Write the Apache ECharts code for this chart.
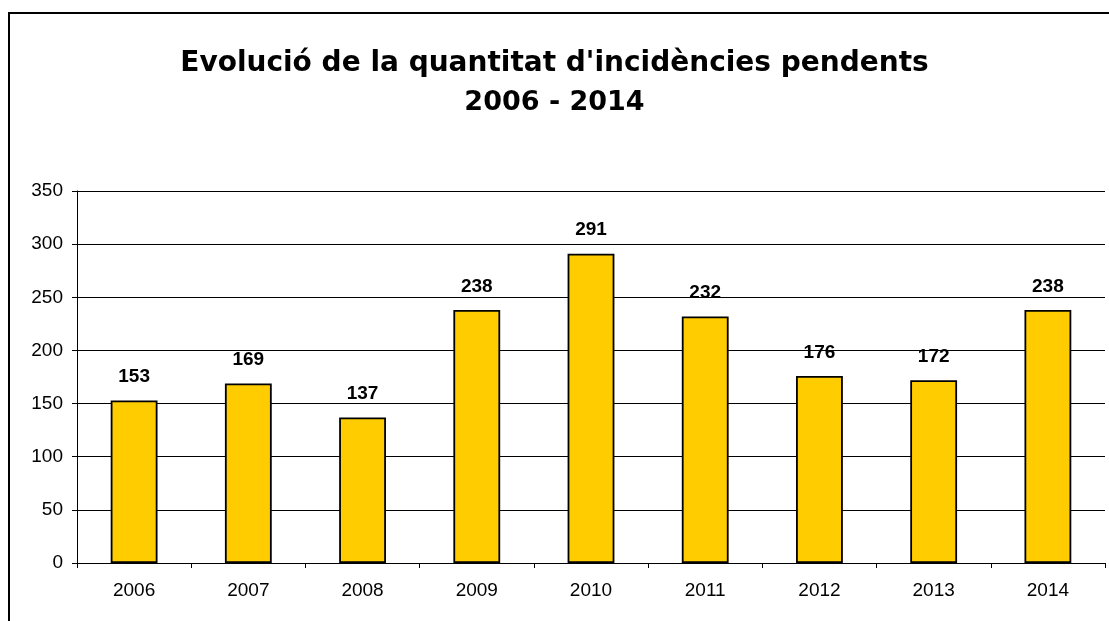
<!DOCTYPE html>
<html>
<head>
<meta charset="utf-8">
<script src="https://cdn.jsdelivr.net/npm/echarts@6/dist/echarts.min.js"></script>
<style>html,body{margin:0;padding:0;background:#fff}#c{width:1109px;height:621px}</style>
</head>
<body>
<div id="c"></div>
<script>
const categories = ['2006','2007','2008','2009','2010','2011','2012','2013','2014'];
const values = [153,169,137,238,291,232,176,172,238];
const titleLine1 = "Evolució de la quantitat d'incidències pendents";
const titleLine2 = "2006 - 2014";

const chart = echarts.init(document.getElementById('c'), null, {renderer:'canvas'});
chart.setOption({
  backgroundColor:'#fff',
  animation:false,
  graphic:[{
    type:'rect', shape:{x:9, y:13, width:1120, height:640},
    style:{fill:'none', stroke:'#000', lineWidth:2}, silent:true
  }],
  title:[
    {text:titleLine1, left:'center', top:44,
     textStyle:{fontFamily:'DejaVu Sans', fontWeight:'bold', fontSize:28, color:'#000', lineHeight:30}},
    {text:titleLine2, left:'center', top:83,
     textStyle:{fontFamily:'DejaVu Sans', fontWeight:'bold', fontSize:27, color:'#000', lineHeight:30}}
  ],
  grid:{left:77, right:4, top:191, bottom:58, containLabel:false},
  xAxis:{
    type:'category', data:categories,
    axisLine:{lineStyle:{color:'#000', width:1}},
    axisTick:{show:true, alignWithLabel:false, length:5, lineStyle:{color:'#000'}},
    axisLabel:{color:'#000', fontFamily:'Liberation Sans', fontSize:19, margin:18}
  },
  yAxis:{
    type:'value', min:0, max:350, interval:50,
    axisLine:{show:true, lineStyle:{color:'#000', width:1}},
    axisTick:{show:true, length:5, lineStyle:{color:'#000'}},
    splitLine:{lineStyle:{color:'#000', width:1}},
    axisLabel:{color:'#000', fontFamily:'Liberation Sans', fontSize:19, margin:14}
  },
  series:[{
    type:'bar', data:values, barWidth:'41%',
    itemStyle:{color:'#FFCC00', borderColor:'#000', borderWidth:1.8},
    label:{show:true, position:'top', distance:14, color:'#000', fontFamily:'Liberation Sans', fontWeight:'bold', fontSize:19}
  }]
});
</script>
</body>
</html>
